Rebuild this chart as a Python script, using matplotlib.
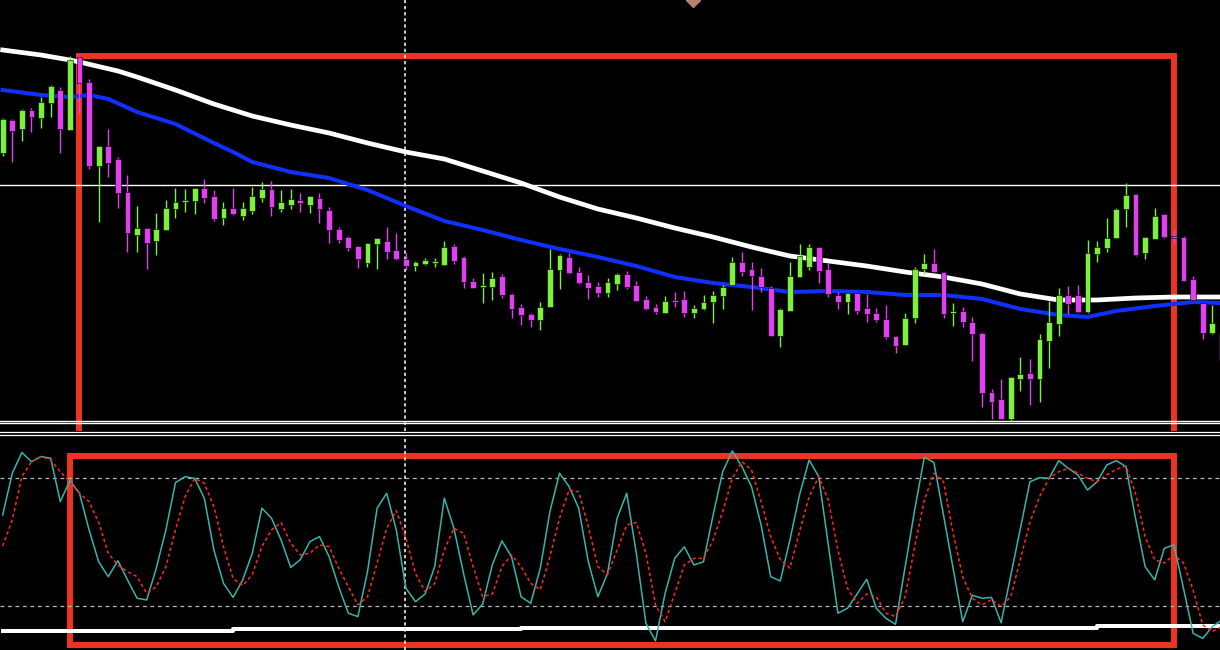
import matplotlib.pyplot as plt
from matplotlib.lines import Line2D
from matplotlib.patches import Rectangle

# ---- candles (price units, arbitrary) ----
opens = [277, 310, 301, 320, 312, 327, 340, 300, 373, 348,
         264, 284, 271, 238, 195, 202, 189, 200, 221, 228,
         229, 242, 234, 212, 222, 214, 219, 232, 241, 221,
         225, 230, 225, 232, 220, 201, 193, 184, 167, 186,
         189, 180, 171, 164, 166, 167, 165, 184, 173, 149,
         143, 143, 154, 136, 123, 116, 110, 123, 160, 173,
         158, 148, 144, 137, 146, 156, 145, 131, 123, 117,
         130, 131, 117, 121, 128, 134, 145, 168, 161, 154,
         142, 94, 119, 153, 163, 183, 161, 135, 128, 137,
         122, 117, 111, 94, 85, 112, 161, 167, 158, 117,
         119, 108, 97, 38, 31, 11, 51, 57, 51, 89,
         106, 135, 135, 118, 176, 182, 192, 221, 236, 177,
         191, 216, 193, 193, 151, 127, 97, 97]
highs = [312, 311, 321, 322, 333, 345, 343, 374, 375, 351,
         284, 301, 273, 255, 224, 202, 217, 230, 242, 241,
         242, 251, 240, 228, 242, 228, 243, 248, 249, 240,
         241, 237, 234, 237, 223, 203, 194, 184, 187, 192,
         203, 197, 177, 169, 172, 172, 189, 186, 174, 152,
         157, 158, 156, 137, 126, 117, 128, 181, 176, 177,
         163, 155, 148, 152, 157, 159, 149, 134, 126, 134,
         138, 139, 125, 135, 139, 145, 173, 178, 168, 162,
         144, 122, 168, 186, 186, 183, 167, 138, 137, 137,
         136, 122, 125, 94, 117, 163, 176, 181, 158, 127,
         123, 113, 98, 41, 51, 53, 73, 71, 96, 129,
         142, 144, 145, 190, 189, 212, 222, 247, 236, 193,
         222, 216, 201, 194, 154, 127, 125, 98]
lows = [274, 268, 289, 298, 302, 313, 277, 300, 317, 261,
        208, 253, 222, 178, 178, 161, 175, 200, 212, 218,
        216, 227, 209, 205, 215, 210, 216, 228, 214, 218,
        221, 218, 217, 207, 187, 187, 179, 162, 163, 161,
        171, 170, 160, 159, 165, 163, 165, 166, 142, 142,
        127, 130, 132, 112, 105, 103, 100, 123, 141, 156,
        146, 131, 133, 133, 140, 141, 129, 120, 116, 117,
        123, 113, 112, 120, 107, 121, 145, 154, 120, 138,
        94, 83, 119, 153, 160, 147, 133, 121, 116, 116,
        108, 108, 91, 77, 85, 107, 156, 158, 112, 104,
        103, 69, 23, 11, 11, 9, 39, 25, 28, 62,
        94, 116, 117, 117, 168, 178, 192, 203, 174, 171,
        191, 192, 186, 149, 130, 91, 96, 65]
closes = [311, 299, 320, 313, 328, 344, 301, 370, 347, 264,
          284, 267, 237, 197, 202, 187, 201, 222, 228, 230,
          242, 232, 211, 222, 216, 222, 234, 241, 223, 228,
          231, 227, 234, 221, 200, 190, 182, 171, 187, 192,
          178, 171, 164, 168, 170, 168, 183, 169, 148, 142,
          145, 152, 135, 121, 115, 110, 123, 161, 175, 157,
          147, 142, 137, 148, 156, 143, 129, 121, 118, 129,
          128, 117, 122, 128, 135, 143, 168, 158, 154, 143,
          94, 121, 154, 174, 183, 159, 136, 128, 137, 119,
          116, 110, 93, 84, 112, 161, 167, 158, 116, 118,
          108, 96, 37, 28, 11, 53, 56, 51, 91, 108,
          135, 126, 118, 177, 183, 192, 221, 235, 175, 193,
          214, 193, 192, 149, 130, 97, 107, 70]

# ---- moving averages, read at sampled candle indices ----
white_idx = [0, 4, 7, 8, 12, 14, 18, 22, 26, 30, 34, 38, 42, 46, 50, 54, 58,
             62, 66, 70, 74, 78, 82, 86, 90, 94, 98, 102, 106, 110, 114, 118,
             122, 127]
white_ma = [380, 375, 370, 368, 359, 353, 340, 326, 314, 305, 297, 287, 278,
            271, 259, 247, 233, 221, 212, 202, 193, 183, 174, 169, 164, 158,
            153, 146, 136, 130, 130, 132, 133, 133]
blue_idx = [0, 4, 7, 9, 11, 14, 18, 22, 24, 26, 30, 34, 38, 42, 46, 50, 54,
            58, 62, 66, 70, 74, 78, 82, 86, 90, 94, 98, 102, 106, 110, 113,
            116, 120, 124, 127]
blue_ma = [340, 335, 333, 335, 331, 318, 306, 287, 278, 268, 258, 252, 240,
           224, 209, 200, 190, 181, 173, 164, 153, 147, 143, 138, 139, 138,
           135, 135, 131, 121, 115, 113, 119, 124, 128, 127]
levels = [245, 9.5, 7.5]

# ---- stochastic ----
k_line = [62.5, 82.1, 91.8, 87.5, 89.9, 89.1, 68.8, 78.6, 72.7, 55.5,
          40.6, 33.6, 41.1, 32.1, 23.5, 22.7, 37.6, 55.5, 77.7, 80.5,
          79.7, 70.4, 46.1, 30.5, 23.9, 32.1, 44.6, 65.7, 61.0, 50.8,
          37.9, 41.6, 50.0, 52.4, 43.0, 28.9, 16.5, 14.9, 36.0, 65.7,
          72.7, 55.5, 28.2, 21.9, 25.5, 38.3, 70.4, 56.3, 35.2, 15.7,
          20.8, 39.1, 50.4, 43.0, 24.2, 21.1, 37.6, 64.1, 82.1, 75.8,
          65.7, 40.6, 24.2, 35.2, 61.0, 72.7, 44.6, 11.8, 3.5, 25.8,
          42.2, 47.6, 39.1, 40.6, 62.5, 82.8, 92.5, 85.2, 75.8, 57.8,
          33.6, 31.6, 50.8, 71.9, 88.3, 80.5, 48.5, 16.5, 18.8, 25.5,
          32.4, 18.8, 14.1, 11.3, 38.3, 65.0, 89.6, 87.1, 62.5, 37.6,
          12.5, 24.9, 23.5, 23.9, 12.0, 34.1, 56.2, 78.1, 80.0, 79.7,
          88.0, 84.4, 81.3, 74.2, 78.1, 85.9, 88.0, 85.2, 61.0, 38.3,
          32.1, 46.9, 48.5, 28.1, 7.1, 4.7, 10.2, 13.3]
d_line = [48.0, 60.2, 80.5, 87.5, 89.9, 88.3, 82.8, 78.1, 72.7, 68.8,
          59.0, 44.6, 39.1, 36.0, 33.6, 25.8, 28.9, 38.3, 55.5, 71.1,
          79.7, 77.4, 66.4, 47.7, 32.8, 29.4, 34.6, 47.7, 55.5, 59.0,
          49.3, 43.8, 44.6, 48.5, 47.7, 37.6, 28.9, 20.4, 24.2, 39.9,
          56.3, 64.6, 51.6, 35.2, 26.6, 30.5, 46.1, 56.3, 54.0, 38.3,
          24.2, 25.5, 38.3, 43.8, 38.3, 30.5, 27.5, 43.0, 61.0, 74.2,
          73.4, 57.1, 38.3, 34.6, 46.1, 57.8, 59.0, 44.6, 20.4, 12.5,
          25.8, 39.1, 42.2, 42.2, 50.8, 64.1, 79.7, 87.5, 83.6, 68.8,
          52.4, 41.6, 37.6, 54.7, 71.0, 80.5, 69.5, 46.1, 28.1, 21.1,
          25.5, 24.2, 16.5, 14.9, 24.2, 47.7, 69.5, 82.1, 78.1, 54.0,
          33.6, 23.5, 20.4, 22.9, 19.6, 24.2, 41.6, 59.0, 71.1, 79.7,
          82.8, 84.4, 82.1, 79.7, 78.1, 81.3, 83.9, 85.5, 72.7, 52.4,
          41.6, 40.0, 43.8, 40.0, 27.4, 11.0, 7.9, 10.2]
osc_ma_idx = [0, 24, 54, 84, 114, 127]
osc_ma = [8.2, 9.1, 9.4, 9.75, 10.5, 10.5]
osc_levels = [80, 20]

RED = '#ee3322'
UP = '#7cf03c'
DOWN = '#e040f0'

fig = plt.figure(figsize=(12.2, 6.5), dpi=100, facecolor='black')
ax = fig.add_axes([0, 1 - 431 / 650, 1, 431 / 650])
osc = fig.add_axes([0, 0, 1, 215 / 650])
for a in (ax, osc):
    a.set_facecolor('black')
    a.set_axis_off()
    a.set_xlim(-0.28, 126.8)
ax.set_ylim(-1, 430)
osc.set_ylim(-0.75, 100)

# main panel
ax.add_patch(Rectangle((8, -30), 114, 404, fill=False, edgecolor=RED,
                       lw=4.3, zorder=1))
for lv in levels:
    ax.axhline(lv, color='white', lw=1.0, zorder=2)
ax.axvline(41.9, color='white', lw=1.1, ls=(0, (2.2, 1.8)), zorder=2)
ax.plot(white_idx, white_ma, color='white', lw=3.4, zorder=3,
        solid_joinstyle='round')
ax.plot(blue_idx, blue_ma, color='#1030ff', lw=2.9, zorder=3,
        solid_joinstyle='round')

idx = list(range(len(opens)))
cols = [UP if c >= o else DOWN for o, c in zip(opens, closes)]
ax.vlines(idx, lows, highs, colors=cols, lw=1.0, zorder=4)
bottoms = [min(o, c) for o, c in zip(opens, closes)]
heights = [max(abs(c - o), 1.6) for o, c in zip(opens, closes)]
ax.bar(idx, heights, bottom=bottoms, width=0.62, color=cols,
       edgecolor='black', linewidth=0.4, zorder=5)
ax.plot([71.9], [430], marker='D', ms=7, color='#b88070', zorder=6)

# oscillator panel
osc.add_patch(Rectangle((7, 1.36), 115, 88.7, fill=False, edgecolor=RED,
                        lw=4.3, zorder=1))
for lv in osc_levels:
    osc.axhline(lv, color='#b8b8b8', lw=0.9, ls=(0, (3, 3)), zorder=2)
osc.axvline(41.9, color='white', lw=1.1, ls=(0, (2.2, 1.8)), zorder=2)
osc.plot(osc_ma_idx, osc_ma, color='white', lw=2.9, drawstyle='steps-post',
         zorder=3)
osc.plot(idx, k_line, color='#3ab4aa', lw=1.1, zorder=4)
osc.plot(idx, d_line, color='#ff2a1a', lw=1.1, ls=(0, (2.2, 1.8)), zorder=5)

# panel separator
for yp in (432, 434.5):
    fig.add_artist(Line2D([0, 1], [1 - yp / 650] * 2, color='white', lw=0.9,
                          transform=fig.transFigure))

fig.savefig('out.png', dpi=100, facecolor='black')
